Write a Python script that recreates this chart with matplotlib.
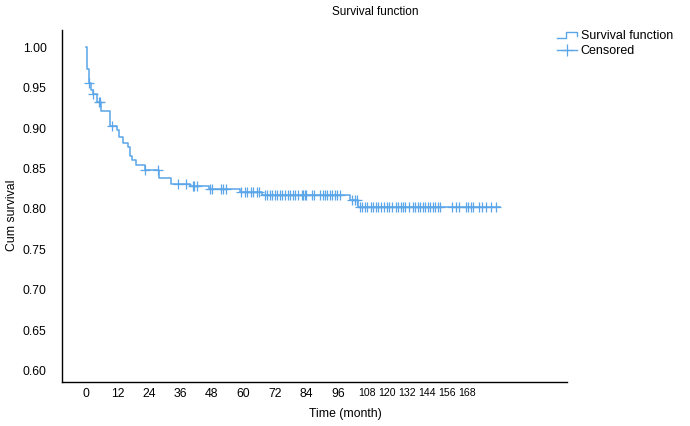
import numpy as np
import matplotlib
matplotlib.use("Agg")
import matplotlib.pyplot as plt
from matplotlib.lines import Line2D
from matplotlib.legend_handler import HandlerBase

plt.rcParams['font.family'] = ['Liberation Sans', 'DejaVu Sans']

# ---- data ----
event_times = [0.3, 1.1, 1.8, 2.8, 4.1, 5.8, 9.0, 11.7, 12.6, 14.2, 16.1, 16.8,
               17.6, 19.0, 22.5, 28.0, 32.4, 39.6, 46.7, 58.6, 67.0, 100.4, 103.7]
survival = [0.973, 0.956, 0.947, 0.942, 0.932, 0.921, 0.902, 0.898, 0.889, 0.881,
            0.877, 0.865, 0.861, 0.854, 0.848, 0.838, 0.831, 0.828, 0.825, 0.821,
            0.817, 0.811, 0.802]
end_time = 157.6
censor_times = [1.2, 2.8, 5.0, 5.4, 9.8, 22.5, 27.5, 35.2, 38.3, 40.6, 41.3, 42.2,
                47.2, 47.9, 51.4, 52.3, 53.3, 59.0, 60.4, 61.5, 62.7, 63.8, 65.0, 66.1,
                68.2, 69.1, 70.1, 71.0, 72.0, 72.9, 73.9, 74.8, 75.8, 76.8, 77.7, 78.7,
                79.6, 80.6, 82.1, 82.7, 83.4, 84.0, 86.0, 86.9, 89.2, 90.1, 91.0, 91.8,
                92.8, 93.8, 94.8, 95.7, 96.7, 101.2, 102.3, 103.2,
                104.4, 105.3, 106.3, 107.2, 108.6, 109.5, 110.5, 111.4, 112.4, 113.7,
                114.7, 115.6, 116.6, 117.9, 118.9, 119.8, 120.8, 121.7, 123.0, 124.6,
                125.5, 126.5, 127.4, 128.4, 129.3, 130.3, 131.2, 132.2, 133.1, 134.1,
                135.0, 139.4, 140.8, 142.1, 144.6, 145.5, 146.5, 147.4, 149.7, 150.9,
                152.4, 154.1, 156.0]
x_tick_labels = ['0', '12', '24', '36', '48', '60', '72', '84', '96',
                 '108', '120', '132', '144', '156', '168']
y_ticks = [0.60, 0.65, 0.70, 0.75, 0.80, 0.85, 0.90, 0.95, 1.00]

color = '#5aa6e8'

fig = plt.figure(figsize=(6.9, 4.26), dpi=100)
ax = fig.add_axes([62/690, 1-382/426, (567-62)/690, (382-30)/426])

t = np.concatenate([[0.0], event_times, [end_time]])
s = np.concatenate([[1.0], survival, [survival[-1]]])
ax.step(t, s, where='post', color=color, lw=1.1)

ct = np.array(censor_times)
idx = np.searchsorted(np.array(event_times), ct, side='right')
cs = np.concatenate([[1.0], survival])[idx]
ax.plot(ct, cs, linestyle='none', marker='+', markersize=7, mew=0.9, color=color)

ax.set_xlim(-9.1, 183.2)
ax.set_ylim(0.5864, 1.021)

# x tick positions (compressed labels after 96 as in the reference)
n_reg = 9
pos_reg = [12*i for i in range(n_reg)]
pos_cmp = [107.0 + 7.6*i for i in range(len(x_tick_labels) - n_reg)]
ax.set_xticks(pos_reg + pos_cmp)
ax.set_xticklabels(x_tick_labels)
for i, lbl in enumerate(ax.get_xticklabels()):
    lbl.set_fontsize(8.8 if i < n_reg else 7.6)
    if i >= n_reg:
        lbl.set_family(['Liberation Sans Narrow', 'Liberation Sans'])
ax.set_yticks(y_ticks)
ax.set_yticklabels([f'{v:.2f}' for v in y_ticks], fontsize=8.8)
ax.tick_params(axis='x', length=0, pad=4)
ax.tick_params(axis='y', length=0, pad=11)
for sp in ['top', 'right']:
    ax.spines[sp].set_visible(False)
for sp in ['left', 'bottom']:
    ax.spines[sp].set_linewidth(1.0)

fig.text(375/690, 1-12/426, 'Survival function', ha='center', va='center', fontsize=8.5)
fig.text(345/690, 1-414/426, 'Time (month)', ha='center', va='center', fontsize=8.8)
fig.text(12/690, 1-215/426, 'Cum survival', ha='center', va='center', rotation=90, fontsize=8.8)


class StepHandler(HandlerBase):
    def create_artists(self, legend, orig_handle, xdescent, ydescent, width, height,
                       fontsize, trans):
        x = np.array([0, 0.45, 0.45, 1.0, 1.0]) * width - xdescent
        y = np.array([0.15, 0.15, 0.75, 0.75, 0.35]) * height - ydescent
        ln = Line2D(x, y, color=color, lw=1.0)
        ln.set_transform(trans)
        return [ln]


h_surv = Line2D([], [], color=color)
h_cens = Line2D([], [], color=color, marker='+', markersize=9, mew=0.9, lw=1.0)
fig.legend([h_surv, h_cens], ['Survival function', 'Censored'],
           handler_map={h_surv: StepHandler()},
           loc='upper left', bbox_to_anchor=(557/690, 1-30/426), frameon=False,
           fontsize=9, handlelength=1.6, handletextpad=0.3, labelspacing=0.25,
           borderaxespad=0, borderpad=0)

fig.savefig('out.png', dpi=100)
